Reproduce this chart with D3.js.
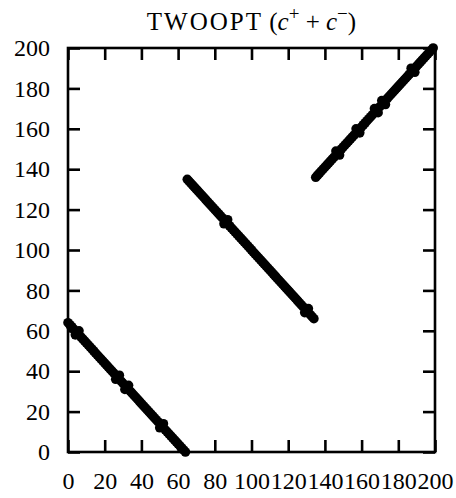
<!DOCTYPE html>
<html>
<head>
<meta charset="utf-8">
<script src="https://cdn.jsdelivr.net/npm/d3@7"></script>
<style>
  html, body { margin: 0; padding: 0; background: #fff; }
  svg { display: block; }
  text { font-family: "Liberation Serif", "DejaVu Serif", serif; fill: #000; }
</style>
</head>
<body>
<script>
// Position in the TWOOPT tour of each city, indexed by city number.
const tourPosition = [
  64, 63, 62, 61, 58, 59, 60, 57, 56, 55,
  54, 53, 52, 51, 50, 49, 48, 47, 46, 45,
  44, 43, 42, 41, 40, 39, 36, 37, 38, 35,
  34, 31, 32, 33, 30, 29, 28, 27, 26, 25,
  24, 23, 22, 21, 20, 19, 18, 17, 16, 15,
  12, 13, 14, 11, 10, 9, 8, 7, 6, 5,
  4, 3, 2, 1, 0,
  135, 134, 133, 132, 131, 130, 129, 128, 127, 126,
  125, 124, 123, 122, 121, 120, 119, 118, 117, 116,
  113, 114, 115, 112, 111, 110, 109, 108, 107, 106,
  105, 104, 103, 102, 101, 100, 99, 98, 97, 96,
  95, 94, 93, 92, 91, 90, 89, 88, 87, 86,
  85, 84, 83, 82, 81, 80, 79, 78, 77, 76,
  75, 74, 73, 72, 69, 70, 71, 68, 67, 66,
  136, 137, 138, 139, 140, 141, 142, 143, 144, 145,
  146, 149, 148, 147, 150, 151, 152, 153, 154, 155,
  156, 157, 160, 159, 158, 161, 162, 163, 164, 165,
  166, 167, 170, 169, 168, 171, 174, 173, 172, 175,
  176, 177, 178, 179, 180, 181, 182, 183, 184, 185,
  186, 187, 190, 189, 188, 191, 192, 193, 194, 195,
  196, 197, 198, 199, 200
];

const tickValues = [0, 20, 40, 60, 80, 100, 120, 140, 160, 180, 200];
const axisDomain = [0, 200];

const width = 456, height = 498;
const margin = { left: 68, right: 21, top: 48, bottom: 46 };

const svg = d3.select("body").append("svg")
  .attr("width", width)
  .attr("height", height);

const x = d3.scaleLinear().domain(axisDomain).range([margin.left, width - margin.right]);
const y = d3.scaleLinear().domain(axisDomain).range([height - margin.bottom, margin.top]);

const tickLen = 12;
const fontSize = 24;

function styleAxis(g) {
  g.select(".domain").remove();
  g.selectAll(".tick line").attr("stroke", "#000").attr("stroke-width", 2.6);
  g.selectAll(".tick text")
    .style("font-family", '"Liberation Serif", "DejaVu Serif", serif')
    .style("font-size", fontSize + "px")
    .attr("fill", "#000");
}

// bottom axis with labels, ticks pointing inward
svg.append("g")
  .attr("transform", `translate(0,${y(0)})`)
  .call(d3.axisBottom(x).tickValues(tickValues).tickSize(-tickLen).tickPadding(20).tickFormat(d3.format("d")))
  .call(styleAxis);

// left axis with labels
svg.append("g")
  .attr("transform", `translate(${x(0)},0)`)
  .call(d3.axisLeft(y).tickValues(tickValues).tickSize(-tickLen).tickPadding(18).tickFormat(d3.format("d")))
  .call(styleAxis);

// top and right axes: ticks only
svg.append("g")
  .attr("transform", `translate(0,${y(200)})`)
  .call(d3.axisTop(x).tickValues(tickValues).tickSize(-tickLen).tickFormat(""))
  .call(styleAxis);

svg.append("g")
  .attr("transform", `translate(${x(200)},0)`)
  .call(d3.axisRight(y).tickValues(tickValues).tickSize(-tickLen).tickFormat(""))
  .call(styleAxis);

// frame
svg.append("rect")
  .attr("x", x(0))
  .attr("y", y(200))
  .attr("width", x(200) - x(0))
  .attr("height", y(0) - y(200))
  .attr("fill", "none")
  .attr("stroke", "#000")
  .attr("stroke-width", 2.6);

// points
svg.append("g")
  .selectAll("circle")
  .data(tourPosition)
  .join("circle")
  .attr("cx", (d, i) => x(i))
  .attr("cy", d => y(d))
  .attr("r", 4.8)
  .attr("fill", "#000");

// title
const title = svg.append("text")
  .attr("x", (x(0) + x(200)) / 2)
  .attr("y", 30)
  .attr("text-anchor", "middle")
  .style("font-size", "25px");
title.append("tspan").attr("letter-spacing", "2px").text("TWOOPT");
title.append("tspan").text("\u00a0(");
title.append("tspan").attr("font-style", "italic").text("c");
title.append("tspan").attr("dy", "-10").style("font-size", "19px").text("+");
title.append("tspan").attr("dy", "10").text("\u2005+\u2005");
title.append("tspan").attr("font-style", "italic").text("c");
title.append("tspan").attr("dy", "-10").style("font-size", "19px").text("\u2212");
title.append("tspan").attr("dy", "10").text(")");
</script>
</body>
</html>
